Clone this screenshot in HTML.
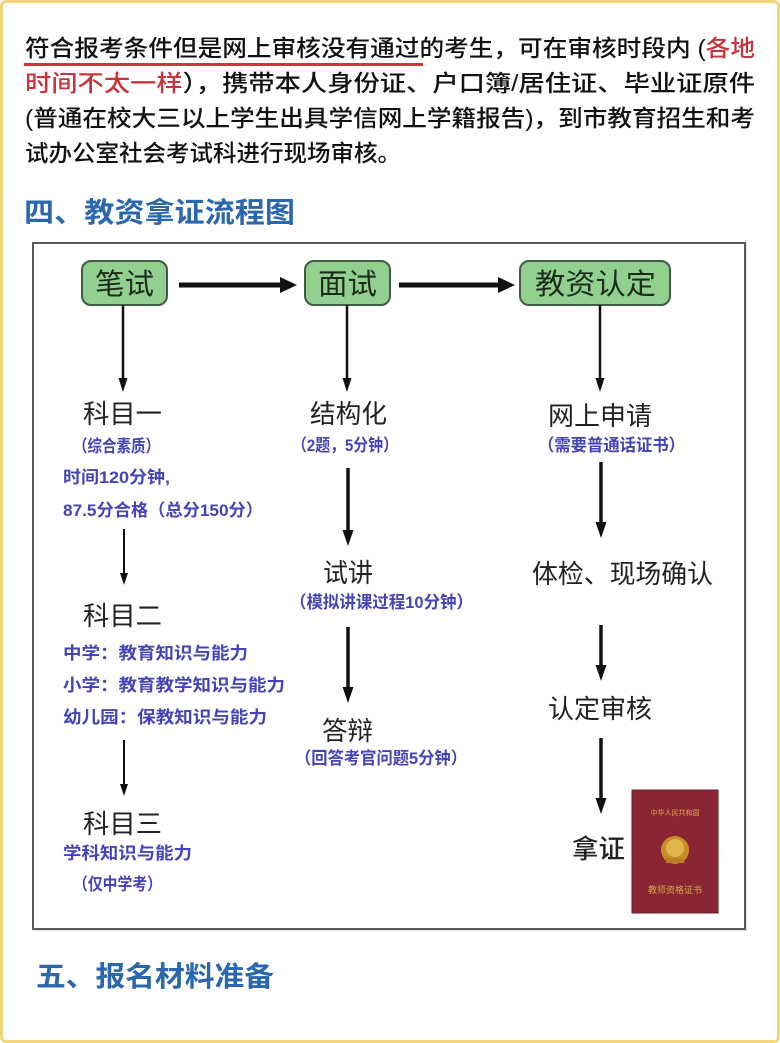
<!DOCTYPE html>
<html>
<head>
<meta charset="utf-8">
<style>
html,body{margin:0;padding:0;background:#fff;}
body{width:780px;height:1043px;overflow:hidden;position:relative;}
.frame{position:absolute;left:0;top:0;width:774px;height:1037px;border:3px solid #f1d77a;border-radius:6px;}
svg{position:absolute;left:0;top:0;}
text{font-family:"Liberation Sans","Noto Sans CJK SC","WenQuanYi Zen Hei",sans-serif;}
.p{font-size:23px;fill:#111;font-weight:500;}
.red{fill:#c8323a;}
.h{font-size:28px;font-weight:700;fill:#2a67ad;}
.lbl{font-size:26px;fill:#222;}
.blue{font-size:17px;fill:#4444b8;font-weight:700;}
.node{font-size:29px;fill:#1d2b1d;}
</style>
</head>
<body>
<div class="frame"></div>
<svg width="780" height="1043" viewBox="0 0 780 1043" xmlns="http://www.w3.org/2000/svg">
  <!-- paragraph -->
  <text class="p" x="25" y="56" textLength="730" lengthAdjust="spacingAndGlyphs">符合报考条件但是网上审核没有通过的考生，可在审核时段内 (<tspan class="red">各地</tspan></text>
  <rect x="24" y="63" width="399" height="3" fill="#d0343c"/>
  <text class="p" x="25" y="91" textLength="730" lengthAdjust="spacingAndGlyphs"><tspan class="red">时间不太一样</tspan>），携带本人身份证、户口簿/居住证、毕业证原件</text>
  <text class="p" x="25" y="126" textLength="730" lengthAdjust="spacingAndGlyphs">(普通在校大三以上学生出具学信网上学籍报告)，到市教育招生和考</text>
  <text class="p" x="25" y="161" textLength="376" lengthAdjust="spacingAndGlyphs">试办公室社会考试科进行现场审核。</text>

  <text class="h" x="24" y="222" textLength="271" lengthAdjust="spacingAndGlyphs">四、教资拿证流程图</text>

  <!-- diagram box -->
  <rect x="34" y="244" width="713" height="687" fill="#888" opacity="0.25"/>
  <rect x="33" y="243" width="712" height="686" fill="#fff" stroke="#5a5a5a" stroke-width="2"/>

  <!-- top nodes -->
  <rect x="82" y="261" width="85" height="44" rx="9" fill="#92d08f" stroke="#3f5e3f" stroke-width="2"/>
  <text class="node" x="95" y="294" textLength="59" lengthAdjust="spacingAndGlyphs">笔试</text>
  <rect x="305" y="261" width="85" height="44" rx="9" fill="#92d08f" stroke="#3f5e3f" stroke-width="2"/>
  <text class="node" x="318" y="294" textLength="59" lengthAdjust="spacingAndGlyphs">面试</text>
  <rect x="520" y="261" width="150" height="44" rx="9" fill="#92d08f" stroke="#3f5e3f" stroke-width="2"/>
  <text class="node" x="535" y="294" textLength="121" lengthAdjust="spacingAndGlyphs">教资认定</text>

  <!-- horizontal arrows -->
  <line x1="179" y1="285" x2="282" y2="285" stroke="#111" stroke-width="5"/>
  <polygon points="280,277 297,285 280,293" fill="#111"/>
  <line x1="399" y1="285" x2="500" y2="285" stroke="#111" stroke-width="5"/>
  <polygon points="498,277 515,285 498,293" fill="#111"/>

  <!-- vertical arrows from nodes -->
  <g fill="#111" stroke="#111">
    <line x1="123" y1="305" x2="123" y2="380" stroke-width="2.5"/>
    <polygon points="118.5,378 127.5,378 123,392" stroke="none"/>
    <line x1="347" y1="305" x2="347" y2="380" stroke-width="2.5"/>
    <polygon points="342.5,378 351.5,378 347,392" stroke="none"/>
    <line x1="600" y1="305" x2="600" y2="380" stroke-width="2.5"/>
    <polygon points="595.5,378 604.5,378 600,392" stroke="none"/>

    <!-- col1 -->
    <line x1="124" y1="529" x2="124" y2="575" stroke-width="2"/>
    <polygon points="120,573 128,573 124,585" stroke="none"/>
    <line x1="124" y1="740" x2="124" y2="786" stroke-width="2"/>
    <polygon points="120,784 128,784 124,796" stroke="none"/>

    <!-- col2 -->
    <line x1="348" y1="468" x2="348" y2="532" stroke-width="3.5"/>
    <polygon points="342.5,530 353.5,530 348,546" stroke="none"/>
    <line x1="348" y1="627" x2="348" y2="689" stroke-width="3.5"/>
    <polygon points="342.5,687 353.5,687 348,703" stroke="none"/>

    <!-- col3 -->
    <line x1="601" y1="462" x2="601" y2="524" stroke-width="3.5"/>
    <polygon points="595.5,522 606.5,522 601,538" stroke="none"/>
    <line x1="601" y1="625" x2="601" y2="667" stroke-width="3.5"/>
    <polygon points="595.5,665 606.5,665 601,681" stroke="none"/>
    <line x1="601" y1="738" x2="601" y2="800" stroke-width="3.5"/>
    <polygon points="595.5,798 606.5,798 601,814" stroke="none"/>
  </g>

  <!-- col 1 labels -->
  <text class="lbl" x="83" y="423" textLength="79" lengthAdjust="spacingAndGlyphs">科目一</text>
  <text class="blue" x="73" y="452" textLength="87" lengthAdjust="spacingAndGlyphs">（综合素质）</text>
  <text class="blue" x="63" y="483" textLength="107" lengthAdjust="spacingAndGlyphs">时间120分钟,</text>
  <text class="blue" x="63" y="516" textLength="200" lengthAdjust="spacingAndGlyphs">87.5分合格（总分150分）</text>
  <text class="lbl" x="83" y="625" textLength="79" lengthAdjust="spacingAndGlyphs">科目二</text>
  <text class="blue" x="63" y="659" textLength="185" lengthAdjust="spacingAndGlyphs">中学：教育知识与能力</text>
  <text class="blue" x="63" y="691" textLength="222" lengthAdjust="spacingAndGlyphs">小学：教育教学知识与能力</text>
  <text class="blue" x="63" y="723" textLength="204" lengthAdjust="spacingAndGlyphs">幼儿园：保教知识与能力</text>
  <text class="lbl" x="83" y="833" textLength="79" lengthAdjust="spacingAndGlyphs">科目三</text>
  <text class="blue" x="63" y="859" textLength="129" lengthAdjust="spacingAndGlyphs">学科知识与能力</text>
  <text class="blue" x="73" y="890" textLength="89" lengthAdjust="spacingAndGlyphs">（仅中学考）</text>

  <!-- col 2 labels -->
  <text class="lbl" x="310" y="423" textLength="77" lengthAdjust="spacingAndGlyphs">结构化</text>
  <text class="blue" x="292" y="451" textLength="106" lengthAdjust="spacingAndGlyphs">（2题，5分钟）</text>
  <text class="lbl" x="323" y="582" textLength="50" lengthAdjust="spacingAndGlyphs">试讲</text>
  <text class="blue" x="290" y="608" textLength="183" lengthAdjust="spacingAndGlyphs">（模拟讲课过程10分钟）</text>
  <text class="lbl" x="322" y="740" textLength="51" lengthAdjust="spacingAndGlyphs">答辩</text>
  <text class="blue" x="295" y="764" textLength="172" lengthAdjust="spacingAndGlyphs">（回答考官问题5分钟）</text>

  <!-- col 3 labels -->
  <text class="lbl" x="548" y="425" textLength="104" lengthAdjust="spacingAndGlyphs">网上申请</text>
  <text class="blue" x="538" y="451" textLength="147" lengthAdjust="spacingAndGlyphs">（需要普通话证书）</text>
  <text class="lbl" x="532" y="583" textLength="181" lengthAdjust="spacingAndGlyphs">体检、现场确认</text>
  <text class="lbl" x="548" y="718" textLength="104" lengthAdjust="spacingAndGlyphs">认定审核</text>
  <text class="lbl" x="572" y="858" textLength="53" lengthAdjust="spacingAndGlyphs" style="font-weight:500">拿证</text>

  <!-- certificate -->
  <rect x="632" y="790" width="86" height="123" fill="#8a2634" stroke="#6e1c28" stroke-width="1"/>
  <text x="675" y="815" text-anchor="middle" style="font-size:7px;fill:#d9a94a;">中华人民共和国</text>
  <circle cx="675" cy="850" r="14" fill="#c98d2a"/>
  <circle cx="675" cy="848" r="9" fill="#e0b54a"/>
  <rect x="666" y="858" width="18" height="5" fill="#b9801f"/>
  <text x="675" y="893" text-anchor="middle" style="font-size:9px;fill:#d9a94a;">教师资格证书</text>

  <text class="h" x="36" y="986" textLength="238" lengthAdjust="spacingAndGlyphs">五、报名材料准备</text>
</svg>
</body>
</html>
